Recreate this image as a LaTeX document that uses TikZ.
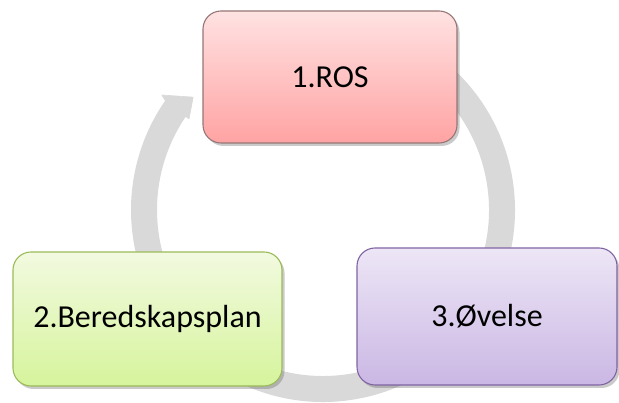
\documentclass[tikz,border=0pt]{standalone}
\usepackage{fontspec}
\setmainfont{Carlito}
\usetikzlibrary{shadows}
\definecolor{ringgrey}{RGB}{217,217,217}
\definecolor{rostop}{RGB}{255,226,226}
\definecolor{rosbot}{RGB}{255,163,163}
\definecolor{rosline}{RGB}{150,118,118}
\definecolor{grtop}{RGB}{242,250,224}
\definecolor{grbot}{RGB}{214,244,156}
\definecolor{grline}{RGB}{155,187,89}
\definecolor{pubot}{RGB}{202,183,228}
\definecolor{putop}{RGB}{237,230,246}
\definecolor{puline}{RGB}{128,100,162}
\begin{document}
\begin{tikzpicture}[x=1pt,y=1pt,
  stage/.style={rectangle, rounded corners=18pt, line width=1.1pt,
    font=\fontsize{32}{36}\selectfont, text=black,
    drop shadow={shadow xshift=2.5pt, shadow yshift=-3pt, opacity=0.35, fill=black!60}},
  ring/.style={draw=ringgrey, line width=26pt},
  ringhead/.style={fill=ringgrey, draw=ringgrey, line width=0.6pt, line join=round}]
\useasboundingbox (0,0) rectangle (619,403);
\coordinate (c) at (323,193);
% continuous cycle ring, running clockwise, with its head just left of stage 1
\draw[ring] ([shift={(60:179)}]c) arc[start angle=60, end angle=-214.7, radius=179];
\filldraw[ringhead] ([shift={(145.8:162)}]c) -- ([shift={(139:172)}]c)
  -- ([shift={(144.5:198)}]c) -- ([shift={(145.5:190)}]c) -- cycle;
% the three stages
\node[stage, draw=rosline, top color=rostop, bottom color=rosbot,
  minimum width=254pt, minimum height=132pt] (ros) at (330,326) {1.ROS};
\node[stage, draw=grline, top color=grtop, bottom color=grbot,
  minimum width=269pt, minimum height=134pt] (plan) at (147.5,84) {2.Beredskapsplan};
\node[stage, draw=puline, top color=putop, bottom color=pubot,
  minimum width=260pt, minimum height=137pt] (ovelse) at (487,86.5) {3.Øvelse};
\end{tikzpicture}
\end{document}
